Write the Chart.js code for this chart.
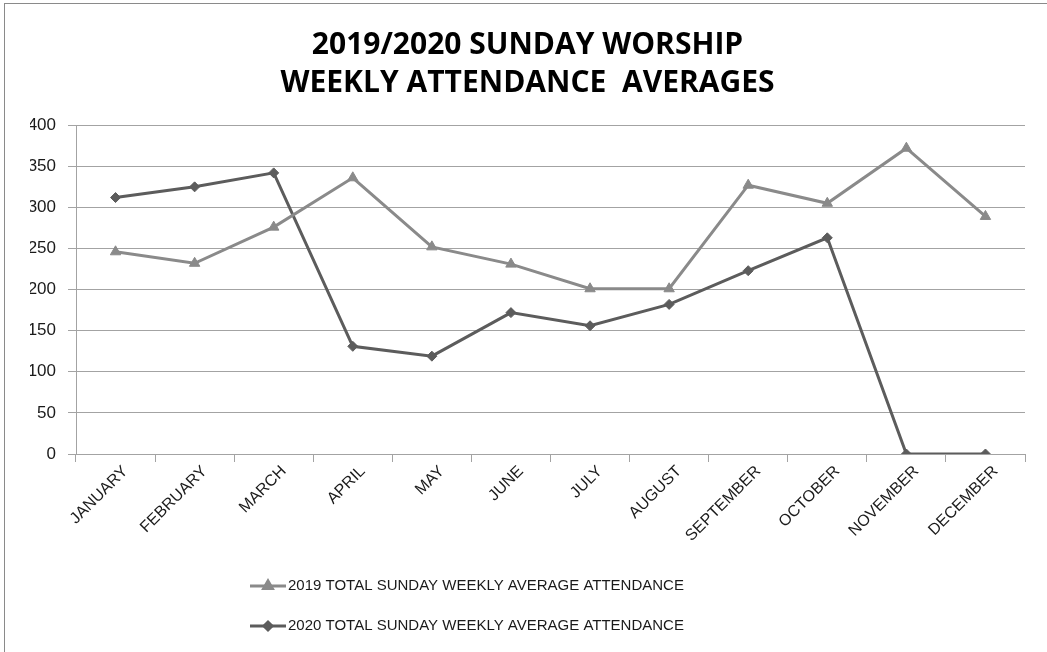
<!DOCTYPE html>
<html>
<head>
<meta charset="utf-8">
<script src="https://cdn.jsdelivr.net/npm/chart.js@4.4.0/dist/chart.umd.min.js"></script>
<style>
    html, body { margin: 0; padding: 0; background: #fff; }
    #wrap { position: absolute; left: 0; top: 0; width: 1047px; height: 652px; }
    #frame {
        position: absolute; left: 4px; top: 3px; width: 1100px; height: 700px;
        border-left: 1px solid #8a8a8a; border-top: 1px solid #8a8a8a;
        pointer-events: none;
    }
</style>
</head>
<body>
<div id="wrap"><canvas id="attendanceChart"></canvas></div>
<div id="frame"></div>
<script>
const months = ['JANUARY', 'FEBRUARY', 'MARCH', 'APRIL', 'MAY', 'JUNE', 'JULY',
    'AUGUST', 'SEPTEMBER', 'OCTOBER', 'NOVEMBER', 'DECEMBER'];
const attendance2019 = [246, 232, 276, 336, 252, 231, 201, 201, 327, 305, 372, 289];
const attendance2020 = [312, 325, 342, 131, 119, 172, 156, 182, 223, 263, 0, 0];
const seriesLabels = ['2019 TOTAL SUNDAY WEEKLY AVERAGE ATTENDANCE', '2020 TOTAL SUNDAY WEEKLY AVERAGE ATTENDANCE'];
const titleLines = ['2019/2020 SUNDAY WORSHIP', 'WEEKLY ATTENDANCE  AVERAGES'];

const color2019 = '#8a8a8a';
const color2020 = '#5c5c5c';
const gridColor = '#a3a3a3';
const bodyFont = '"Liberation Sans", Arial, sans-serif';

// legend drawn by hand so the two entries sit on separate rows like the original
const stackedLegend = {
    id: 'stackedLegend',
    afterDraw(chart) {
        const ctx = chart.ctx;
        const rows = [586, 626];
        const x0 = 250;
        ctx.save();
        ctx.font = '15px ' + bodyFont;
        ctx.textBaseline = 'middle';
        chart.data.datasets.forEach((ds, i) => {
            const y = rows[i];
            ctx.strokeStyle = ds.borderColor;
            ctx.lineWidth = 3;
            ctx.beginPath();
            ctx.moveTo(x0, y);
            ctx.lineTo(x0 + 36, y);
            ctx.stroke();
            Chart.helpers.drawPoint(ctx, {
                pointStyle: ds.pointStyle,
                radius: ds.pointStyle === 'triangle' ? 5 : 4,
                rotation: 0,
                borderWidth: 1
            }, x0 + 18, y);
            ctx.fillStyle = ds.borderColor;
            ctx.fill();
            ctx.fillStyle = '#1a1a1a';
            ctx.fillText(ds.label, x0 + 38, y);
        });
        ctx.restore();
    }
};

const ctx = document.getElementById('attendanceChart').getContext('2d');
new Chart(ctx, {
    type: 'line',
    data: {
        labels: months,
        datasets: [{
            label: seriesLabels[0],
            data: attendance2019,
            borderColor: color2019,
            backgroundColor: color2019,
            borderWidth: 3,
            pointStyle: 'triangle',
            pointRadius: 6,
            pointBorderWidth: 1,
            tension: 0
        }, {
            label: seriesLabels[1],
            data: attendance2020,
            borderColor: color2020,
            backgroundColor: color2020,
            borderWidth: 3,
            pointStyle: 'rectRot',
            pointRadius: 5,
            pointBorderWidth: 1,
            tension: 0
        }]
    },
    options: {
        responsive: true,
        maintainAspectRatio: false,
        animation: false,
        layout: {
            padding: { left: 30, right: 22, top: 0, bottom: 110 }
        },
        scales: {
            x: {
                offset: true,
                grid: {
                    offset: true,
                    drawOnChartArea: false,
                    drawTicks: true,
                    tickLength: 8,
                    color: gridColor
                },
                border: { display: true, color: gridColor, width: 1 },
                ticks: {
                    minRotation: 45,
                    maxRotation: 45,
                    padding: 0,
                    labelOffset: 10,
                    color: '#1a1a1a',
                    font: { family: bodyFont, size: 16 }
                },
                afterFit(scale) { scale.height = 88; }
            },
            y: {
                min: 0,
                max: 400,
                ticks: {
                    stepSize: 50,
                    padding: 12,
                    color: '#1a1a1a',
                    font: { family: bodyFont, size: 17 }
                },
                grid: {
                    color: gridColor,
                    tickLength: 8,
                    drawTicks: true
                },
                border: { display: true, color: gridColor, width: 1 },
                afterFit(scale) { scale.width = 46; }
            }
        },
        plugins: {
            legend: { display: false },
            tooltip: { enabled: false },
            title: {
                display: true,
                text: titleLines,
                color: '#000',
                font: { family: '"Open Sans", "Liberation Sans", sans-serif', size: 30, weight: 'bold', lineHeight: 1.27 },
                padding: { top: 26, bottom: 23 }
            }
        }
    },
    plugins: [stackedLegend]
});
</script>
</body>
</html>
